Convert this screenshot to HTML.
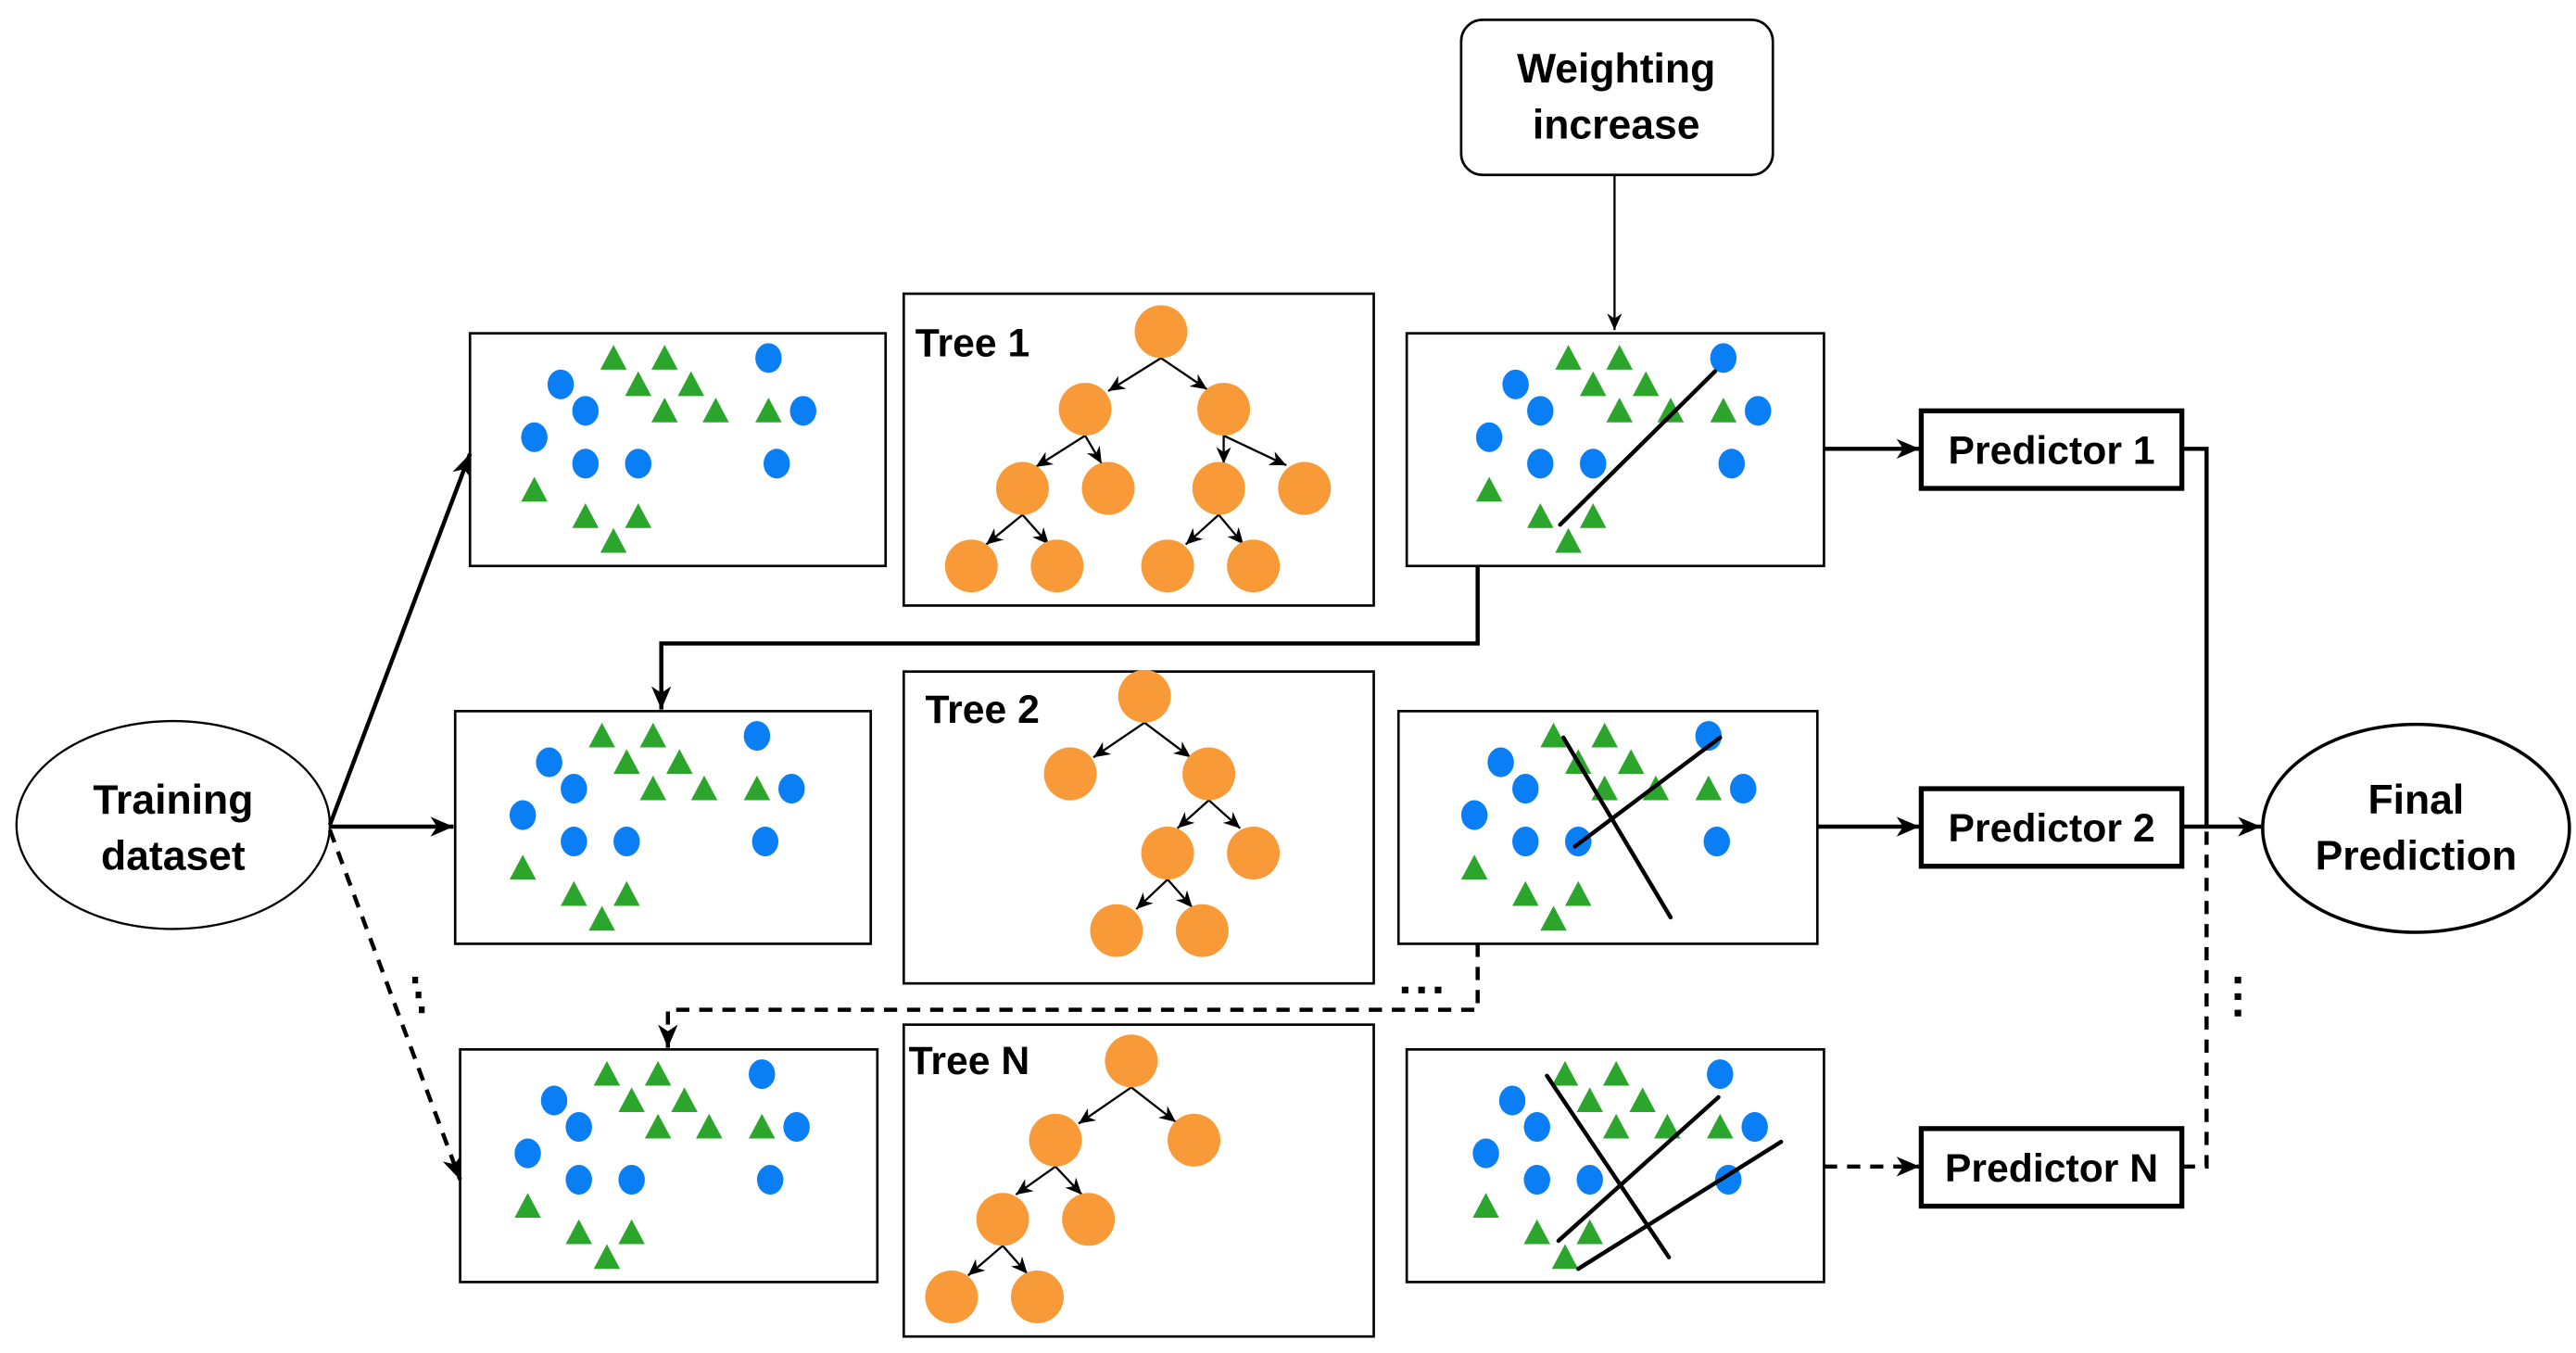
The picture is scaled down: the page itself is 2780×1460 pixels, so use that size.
<!DOCTYPE html>
<html><head><meta charset="utf-8"><style>
html,body{margin:0;padding:0;background:#fff;}
svg{display:block;}
text{font-family:"Liberation Sans",Arial,sans-serif;font-weight:bold;fill:#000;}
</style></head><body>
<svg width="2780" height="1460" viewBox="0 0 1562 820" preserveAspectRatio="none" xmlns="http://www.w3.org/2000/svg">
<defs>
<marker id="ah" markerUnits="userSpaceOnUse" markerWidth="16" markerHeight="16" refX="14" refY="8" orient="auto">
<path d="M0,2 L14,8 L0,14 L4,8 Z" fill="#000"/></marker>
<marker id="as" markerUnits="userSpaceOnUse" markerWidth="12" markerHeight="12" refX="10" refY="6" orient="auto">
<path d="M0,1.5 L10,6 L0,10.5 L3,6 Z" fill="#000"/></marker>
<g id="sc">
<g fill="#0a7ff5">
<ellipse cx="55" cy="31" rx="8" ry="9"/><ellipse cx="70" cy="47" rx="8" ry="9"/><ellipse cx="39" cy="63" rx="8" ry="9"/>
<ellipse cx="70" cy="79" rx="8" ry="9"/><ellipse cx="102" cy="79" rx="8" ry="9"/><ellipse cx="181" cy="15" rx="8" ry="9"/>
<ellipse cx="202" cy="47" rx="8" ry="9"/><ellipse cx="186" cy="79" rx="8" ry="9"/>
</g>
<g fill="#2ca52c">
<path d="M87,7 l8,15 h-16z"/><path d="M118,7 l8,15 h-16z"/><path d="M102,23 l8,15 h-16z"/><path d="M134,23 l8,15 h-16z"/>
<path d="M118,39 l8,15 h-16z"/><path d="M149,39 l8,15 h-16z"/><path d="M181,39 l8,15 h-16z"/><path d="M39,87 l8,15 h-16z"/>
<path d="M70,103 l8,15 h-16z"/><path d="M102,103 l8,15 h-16z"/><path d="M87,118 l8,15 h-16z"/>
</g>
</g>
</defs>

<!-- Weighting increase -->
<rect x="886" y="12" width="189" height="94" rx="13" fill="#fff" stroke="#000" stroke-width="1.5"/>
<text x="980" y="50" font-size="25" text-anchor="middle">Weighting</text>
<text x="980" y="84" font-size="25" text-anchor="middle">increase</text>
<line x1="979" y1="106" x2="979" y2="200" stroke="#000" stroke-width="1.3" marker-end="url(#as)"/>

<!-- Training dataset -->
<ellipse cx="105" cy="500" rx="95" ry="63" fill="#fff" stroke="#000" stroke-width="1.3"/>
<text x="105" y="493" font-size="25" text-anchor="middle">Training</text>
<text x="105" y="527" font-size="25" text-anchor="middle">dataset</text>

<!-- Final Prediction -->
<ellipse cx="1465" cy="502" rx="93" ry="63" fill="#fff" stroke="#000" stroke-width="2"/>
<text x="1465" y="493" font-size="25" text-anchor="middle">Final</text>
<text x="1465" y="527" font-size="25" text-anchor="middle">Prediction</text>

<!-- Boxes -->
<g fill="#fff" stroke="#000" stroke-width="1.5">
<rect x="285" y="202" width="252" height="141"/>
<rect x="548" y="178" width="285" height="189"/>
<rect x="853" y="202" width="253" height="141"/>
<rect x="276" y="431" width="252" height="141"/>
<rect x="548" y="407" width="285" height="189"/>
<rect x="848" y="431" width="254" height="141"/>
<rect x="279" y="636" width="253" height="141"/>
<rect x="548" y="621" width="285" height="189"/>
<rect x="853" y="636" width="253" height="141"/>
</g>
<g fill="#fff" stroke="#000" stroke-width="3">
<rect x="1165" y="249" width="158" height="47"/>
<rect x="1165" y="478" width="158" height="47"/>
<rect x="1165" y="684" width="158" height="47"/>
</g>
<text x="1244" y="281" font-size="24" text-anchor="middle">Predictor 1</text>
<text x="1244" y="510" font-size="24" text-anchor="middle">Predictor 2</text>
<text x="1244" y="716" font-size="24" text-anchor="middle">Predictor N</text>

<!-- scatters -->
<use href="#sc" transform="translate(285,202)"/>
<use href="#sc" transform="translate(278,431)"/>
<use href="#sc" transform="translate(281,636)"/>
<use href="#sc" transform="translate(864,202)"/>
<use href="#sc" transform="translate(855,431)"/>
<use href="#sc" transform="translate(862,636)"/>
<g stroke="#000" stroke-width="2.5" stroke-linecap="round">
<line x1="946" y1="318" x2="1040" y2="225"/>
<line x1="955" y1="513" x2="1043" y2="447"/>
<line x1="948" y1="447" x2="1013" y2="556"/>
<line x1="945" y1="752" x2="1042" y2="665"/>
<line x1="938" y1="652" x2="1012" y2="762"/>
<line x1="957" y1="769" x2="1080" y2="692"/>
</g>

<!-- Trees -->
<text x="555" y="216" font-size="24">Tree 1</text>
<text x="561" y="438" font-size="24">Tree 2</text>
<text x="551" y="651" font-size="24">Tree N</text>
<g stroke="#000" stroke-width="1.3" marker-end="url(#as)">
<line x1="704" y1="217" x2="672" y2="237"/><line x1="704" y1="217" x2="732" y2="236"/>
<line x1="658" y1="264" x2="628" y2="283"/><line x1="658" y1="264" x2="668" y2="281"/>
<line x1="742" y1="264" x2="742" y2="281"/><line x1="742" y1="264" x2="780" y2="282"/>
<line x1="620" y1="312" x2="598" y2="330"/><line x1="620" y1="312" x2="636" y2="330"/>
<line x1="739" y1="312" x2="719" y2="330"/><line x1="739" y1="312" x2="754" y2="330"/>
<line x1="694" y1="438" x2="663" y2="459"/><line x1="694" y1="438" x2="722" y2="459"/>
<line x1="733" y1="485" x2="714" y2="502"/><line x1="733" y1="485" x2="752" y2="502"/>
<line x1="708" y1="533" x2="689" y2="551"/><line x1="708" y1="533" x2="723" y2="550"/>
<line x1="686" y1="659" x2="654" y2="681"/><line x1="686" y1="659" x2="713" y2="680"/>
<line x1="640" y1="707" x2="616" y2="724"/><line x1="640" y1="707" x2="656" y2="724"/>
<line x1="608" y1="755" x2="587" y2="773"/><line x1="608" y1="755" x2="623" y2="772"/>
</g>
<g fill="#f99a38">
<ellipse cx="704" cy="201" rx="16" ry="16"/>
<ellipse cx="658" cy="248" rx="16" ry="16"/><ellipse cx="742" cy="248" rx="16" ry="16"/>
<ellipse cx="620" cy="296" rx="16" ry="16"/><ellipse cx="672" cy="296" rx="16" ry="16"/>
<ellipse cx="739" cy="296" rx="16" ry="16"/><ellipse cx="791" cy="296" rx="16" ry="16"/>
<ellipse cx="589" cy="343" rx="16" ry="16"/><ellipse cx="641" cy="343" rx="16" ry="16"/>
<ellipse cx="708" cy="343" rx="16" ry="16"/><ellipse cx="760" cy="343" rx="16" ry="16"/>
<ellipse cx="694" cy="422" rx="16" ry="16"/>
<ellipse cx="649" cy="469" rx="16" ry="16"/><ellipse cx="733" cy="469" rx="16" ry="16"/>
<ellipse cx="708" cy="517" rx="16" ry="16"/><ellipse cx="760" cy="517" rx="16" ry="16"/>
<ellipse cx="677" cy="564" rx="16" ry="16"/><ellipse cx="729" cy="564" rx="16" ry="16"/>
<ellipse cx="686" cy="643" rx="16" ry="16"/>
<ellipse cx="640" cy="691" rx="16" ry="16"/><ellipse cx="724" cy="691" rx="16" ry="16"/>
<ellipse cx="608" cy="739" rx="16" ry="16"/><ellipse cx="660" cy="739" rx="16" ry="16"/>
<ellipse cx="577" cy="786" rx="16" ry="16"/><ellipse cx="629" cy="786" rx="16" ry="16"/>
</g>

<!-- connectors -->
<g fill="none" stroke="#000" stroke-width="2.5">
<line x1="200" y1="500" x2="285" y2="275" marker-end="url(#ah)"/>
<line x1="200" y1="501" x2="275" y2="501" marker-end="url(#ah)"/>
<line x1="200" y1="503" x2="279" y2="715" stroke-dasharray="8,6" marker-end="url(#ah)"/>
<polyline points="896,343 896,390 401,390 401,430" marker-end="url(#ah)"/>
<polyline points="896,572 896,612 405,612 405,635" stroke-dasharray="8,6" marker-end="url(#ah)"/>
<line x1="1106" y1="272" x2="1164" y2="272" marker-end="url(#ah)"/>
<line x1="1102" y1="501" x2="1164" y2="501" marker-end="url(#ah)"/>
<line x1="1106" y1="707" x2="1164" y2="707" stroke-dasharray="8,6" marker-end="url(#ah)"/>
<polyline points="1323,272 1338,272 1338,501"/>
<line x1="1323" y1="501" x2="1371" y2="501" marker-end="url(#ah)"/>
<polyline points="1323,707 1338,707 1338,501" stroke-dasharray="8,6"/>
</g>
<g fill="#000">
<rect x="850" y="598" width="4" height="4"/><rect x="860" y="598" width="4" height="4"/><rect x="870" y="598" width="4" height="4"/>
<rect x="1355" y="592" width="4" height="4"/><rect x="1355" y="602" width="4" height="4"/><rect x="1355" y="612" width="4" height="4"/>
<rect x="250" y="592" width="3.5" height="4"/><rect x="252" y="601" width="3.5" height="4"/><rect x="254" y="610" width="3.5" height="4"/>
</g>
</svg>
</body></html>
